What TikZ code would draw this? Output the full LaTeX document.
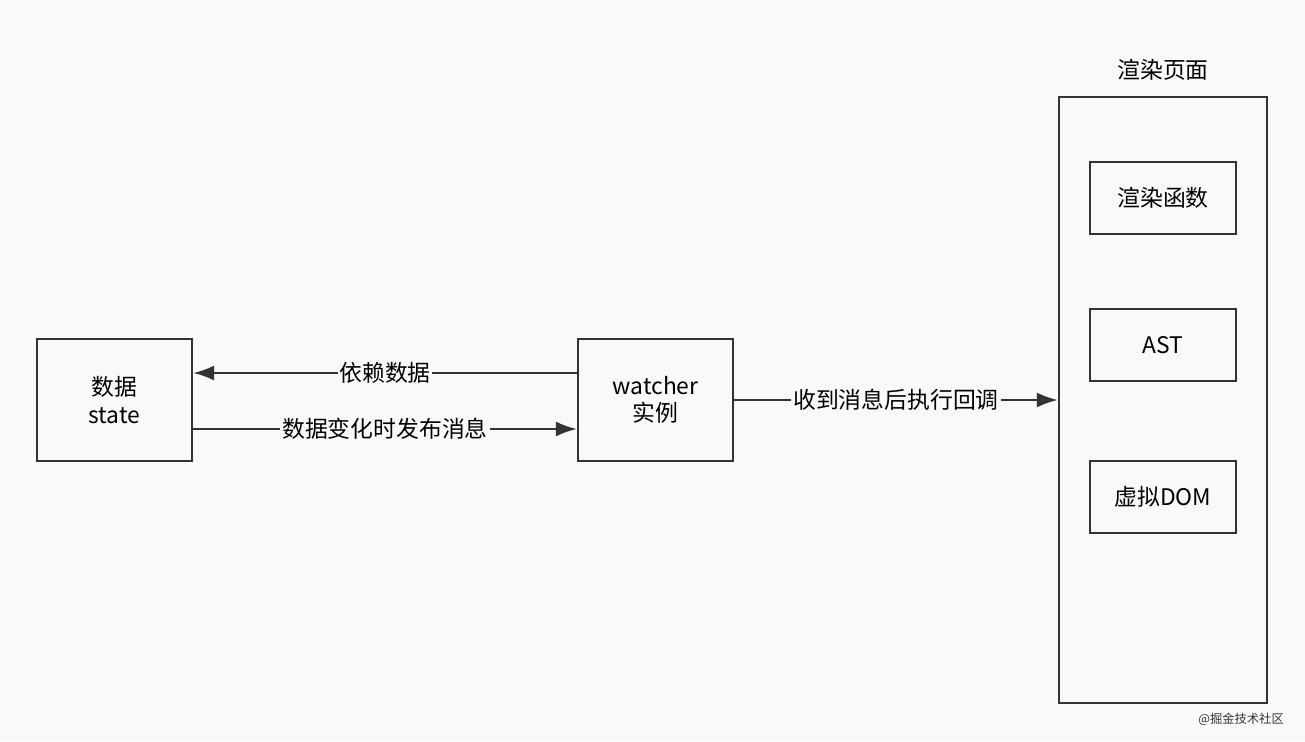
\documentclass[tikz,border=0pt]{standalone}
\usepackage{fontspec}
\setmainfont{Noto Sans CJK SC}
\usetikzlibrary{positioning,arrows.meta}
\definecolor{bgcol}{HTML}{F9F9F9}
\definecolor{inkcol}{HTML}{333333}
\begin{document}
\begin{tikzpicture}[
        x=0.02cm, y=-0.02cm,
        box/.style = {draw=inkcol, line width=1.3pt, fill=bgcol, align=center, font=\fontsize{13}{15.5}\selectfont, inner sep=0pt}, % Стиль блоков
        flow/.style = {draw=inkcol, line width=1.3pt, -{Latex[length=0.42cm,width=0.3cm]}},
        lbl/.style = {fill=bgcol, inner sep=1pt, font=\fontsize{13}{15.5}\selectfont},
    ]
    \fill[bgcol] (0,0) rectangle (1305,741);

    \node[box, minimum width=3.1cm, minimum height=2.44cm] (state) at (114.5,400) {数据\\state};
    \node[box, minimum width=3.1cm, minimum height=2.44cm] (watcher) at (655.5,400) {watcher\\实例};
    \node[box, minimum width=4.16cm, minimum height=12.12cm] (page) at (1163,400) {};
    \node[font=\fontsize{13}{15.5}\selectfont] (title) at (1163,70) {渲染页面};
    \node[box, minimum width=2.92cm, minimum height=1.44cm] (render) at (1163,198) {渲染函数};
    \node[box, minimum width=2.92cm, minimum height=1.44cm] (ast) at (1163,345) {AST};
    \node[box, minimum width=2.92cm, minimum height=1.44cm] (vdom) at (1163,497) {虚拟DOM};

    \draw[flow] (watcher.west |- 0,373) -- node[lbl] {依赖数据} (state.east |- 0,373);
    \draw[flow] (state.east |- 0,429) -- node[lbl] {数据变化时发布消息} (watcher.west |- 0,429);
    \draw[flow] (watcher.east) -- node[lbl] {收到消息后执行回调} (page.west);

    \node[font=\fontsize{7}{8}\selectfont, text=inkcol, anchor=east] (mark) at (1290,719) {@掘金技术社区};
\end{tikzpicture}
\end{document}
